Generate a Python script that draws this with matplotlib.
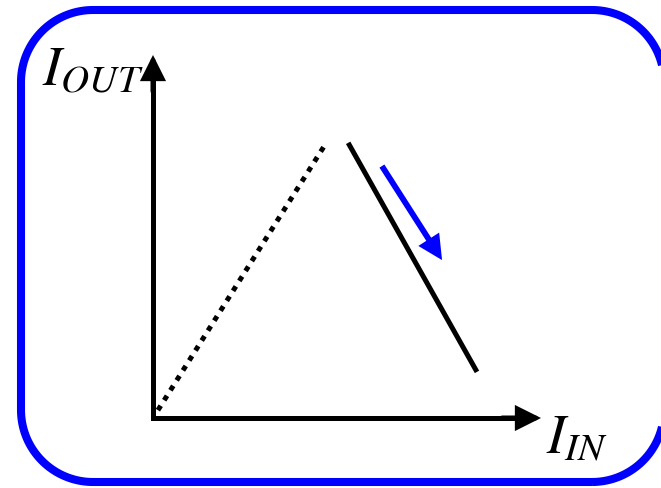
import matplotlib
matplotlib.use("Agg")
import numpy as np
import matplotlib.pyplot as plt
from matplotlib.patches import FancyArrowPatch, PathPatch
from matplotlib.path import Path

plt.rcParams['mathtext.fontset'] = 'stix'

# schematic values (axis units 0..10)
axis_len = 10
dotted_x = [0.0, 4.43]
dotted_y = [0.0, 7.52]
solid_x = [5.03, 8.35]
solid_y = [7.58, 1.27]
trend_x = [5.90, 7.45]
trend_y = [6.94, 4.35]
x_label = r'$I_{IN}$'
y_label = r'$I_{OUT}$'

W, H = 661, 488
fig = plt.figure(figsize=(W / 100, H / 100), dpi=100)


def rounded_rect(x0, y0, x1, y1, r):
    # circular corners, counter-clockwise from bottom-left
    pts = []
    corners = [(x1 - r, y0 + r, -90, 0), (x1 - r, y1 - r, 0, 90),
               (x0 + r, y1 - r, 90, 180), (x0 + r, y0 + r, 180, 270)]
    for cx, cy, a0, a1 in corners:
        t = np.radians(np.linspace(a0, a1, 40))
        pts += list(zip(cx + r * np.cos(t), cy + r * np.sin(t)))
    pts.append(pts[0])
    return Path(pts, closed=True)


# background layer in pixel units: frame + labels
bg = fig.add_axes([0, 0, 1, 1])
bg.set_xlim(0, W)
bg.set_ylim(0, H)
bg.axis('off')
bg.add_patch(PathPatch(rounded_rect(21, 6, 664, 478, 72), fill=False,
                       ec='#0000ff', lw=5.8, clip_on=False))
bg.text(42, H - 85, y_label, fontsize=40, ha='left', va='baseline', color='black')
bg.text(546, H - 453, x_label, fontsize=40, ha='left', va='baseline', color='black')

# chart layer
ax = fig.add_axes([153 / W, (H - 418) / H, 388 / W, 363 / H])
ax.set_xlim(0, axis_len)
ax.set_ylim(0, axis_len)
ax.axis('off')

lw = 3.6
ax.plot([0, 0, axis_len - 0.3], [axis_len - 0.3, 0, 0], color='black', lw=lw,
        solid_joinstyle='miter', solid_capstyle='butt', clip_on=False)
head = '-|>,head_length=13,head_width=6.5'
for end in [(axis_len, 0), (0, axis_len)]:
    start = (axis_len - 1, 0) if end[1] == 0 else (0, axis_len - 1)
    ax.add_patch(FancyArrowPatch(start, end, arrowstyle=head, mutation_scale=1,
                                 color='black', lw=lw, shrinkA=0, shrinkB=0,
                                 joinstyle='miter', clip_on=False))

ax.plot(dotted_x, dotted_y, color='black', lw=lw, linestyle=(0.5, (1.05, 1.3)),
        dash_capstyle='butt', clip_on=False)
ax.plot(solid_x, solid_y, color='black', lw=lw, solid_capstyle='butt', clip_on=False)

ax.add_patch(FancyArrowPatch((trend_x[0], trend_y[0]), (trend_x[1], trend_y[1]),
                             arrowstyle='-|>,head_length=11,head_width=5.5', mutation_scale=1,
                             color='#0000ff', lw=4.2, shrinkA=0, shrinkB=0,
                             joinstyle='miter', capstyle='butt', clip_on=False))

fig.savefig('out.png', dpi=100)
